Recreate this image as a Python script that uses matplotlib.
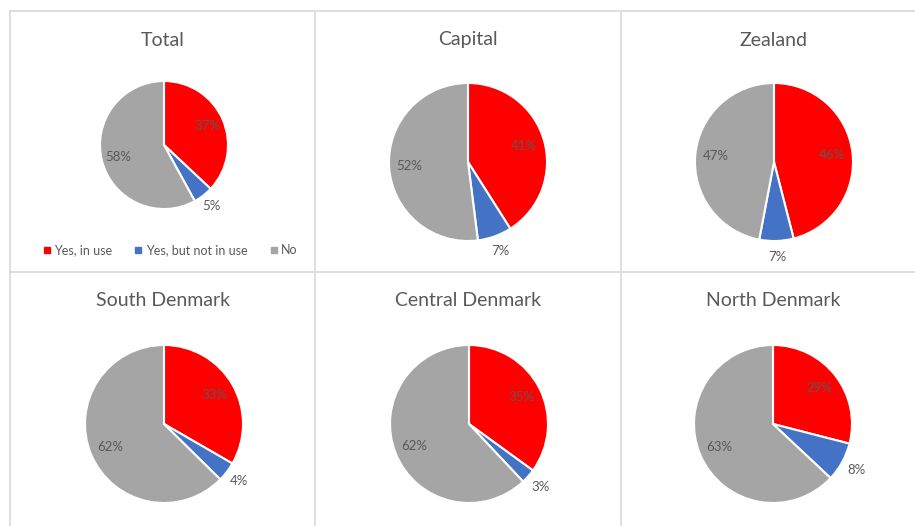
import numpy as np
import matplotlib.pyplot as plt
from matplotlib.lines import Line2D

plt.rcParams['font.family'] = ['Lato', 'DejaVu Sans']

regions = ["Total", "Capital", "Zealand", "South Denmark", "Central Denmark", "North Denmark"]
categories = ["Yes, in use", "Yes, but not in use", "No"]
yes_in_use = [37, 41, 46, 33, 35, 29]
yes_not_in_use = [5, 7, 7, 4, 3, 8]
no_use = [58, 52, 47, 62, 62, 63]

colors = ["#FF0000", "#4472C4", "#A5A5A5"]
text_color = "#595959"
grid_color = "#D9D9D9"

W, H = 915, 526
fig = plt.figure(figsize=(W / 100, H / 100), dpi=100)
fig.patch.set_facecolor("white")


def fx(px):
    return px / W


def fy(py):
    return 1 - py / H


# panel borders
for (x0, y0, x1, y1) in [(10, 11, 915, 11), (10, 11, 10, 526), (315, 11, 315, 526),
                         (621, 11, 621, 526), (10, 272, 915, 272)]:
    fig.add_artist(Line2D([fx(x0), fx(x1)], [fy(y0), fy(y1)], color=grid_color, lw=1.2))

# pie centers and radii in pixels
centers = [(164, 145), (468, 162), (774, 162), (164, 424), (469, 424), (773, 424)]
radii = [64, 79, 79, 79, 79, 79]
title_pos = [(163, 40), (468, 40), (773, 40), (163, 300), (468, 300), (773, 300)]

for i, name in enumerate(regions):
    vals = [yes_in_use[i], yes_not_in_use[i], no_use[i]]
    cx, cy = centers[i]
    r = radii[i]
    ax = fig.add_axes([fx(cx - r), fy(cy + r), 2 * r / W, 2 * r / H])
    wedges, _ = ax.pie(vals, colors=colors, startangle=90, counterclock=False,
                       radius=1.0, wedgeprops=dict(edgecolor="white", linewidth=1.5))
    ax.set_xlim(-1, 1)
    ax.set_ylim(-1, 1)
    ax.set_aspect("equal")
    ax.axis("off")

    total = sum(vals)
    start = 90.0
    for v in vals:
        span = 360.0 * v / total
        mid = np.deg2rad(start - span / 2)
        start -= span
        dist = 0.74 if v >= 15 else 1.2
        ax.text(dist * np.cos(mid), dist * np.sin(mid), f"{v}%", ha="center", va="center",
                fontsize=9.5, color=text_color, clip_on=False)

    tx, ty = title_pos[i]
    fig.text(fx(tx), fy(ty), name, ha="center", va="center", fontsize=14, color=text_color)

# legend under the first pie
handles = [Line2D([], [], marker="s", linestyle="none", markersize=4.5,
                  markerfacecolor=c, markeredgecolor=c) for c in colors]
fig.legend(handles, categories, loc="center", bbox_to_anchor=(fx(169), fy(250)),
           ncol=3, frameon=False, fontsize=9, labelcolor=text_color,
           handletextpad=0.1, columnspacing=1.6, handlelength=1.0)

fig.savefig("out.png", dpi=100, facecolor="white")
